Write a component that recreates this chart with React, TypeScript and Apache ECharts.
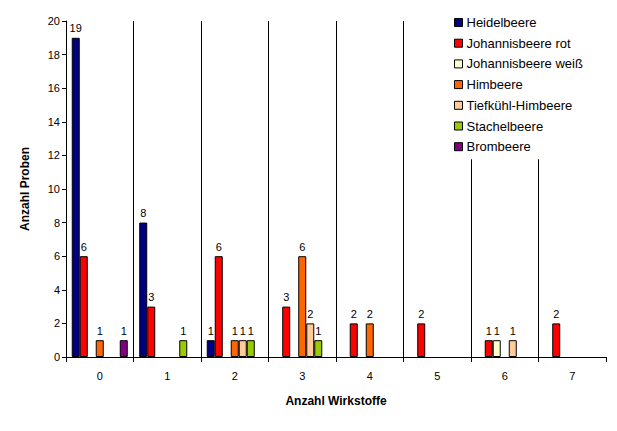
import React, { useEffect, useRef } from "react";
import * as echarts from "echarts";

const categories = ["0", "1", "2", "3", "4", "5", "6", "7"];
const seriesNames = [
  "Heidelbeere",
  "Johannisbeere rot",
  "Johannisbeere weiß",
  "Himbeere",
  "Tiefkühl-Himbeere",
  "Stachelbeere",
  "Brombeere",
];
const heidelbeere = [19, 8, 1, 0, 0, 0, 0, 0];
const johannisRot = [6, 3, 6, 3, 2, 2, 1, 2];
const johannisWeiss = [0, 0, 0, 0, 0, 0, 1, 0];
const himbeere = [1, 0, 1, 6, 2, 0, 0, 0];
const tiefkuehl = [0, 0, 1, 2, 0, 0, 1, 0];
const stachelbeere = [0, 1, 1, 1, 0, 0, 0, 0];
const brombeere = [1, 0, 0, 0, 0, 0, 0, 0];
const colors = ["#000080", "#FF0000", "#FFFFCC", "#FF6600", "#FFCC99", "#99CC00", "#800080"];
const allValues = [heidelbeere, johannisRot, johannisWeiss, himbeere, tiefkuehl, stachelbeere, brombeere];

const FONT = "'Liberation Sans', Arial, sans-serif";

export default function App() {
  const ref = useRef<HTMLDivElement>(null);
  useEffect(() => {
    if (!ref.current) return;
    const chart = echarts.init(ref.current, undefined, { renderer: "svg" });
    chart.setOption({
      animation: false,
      backgroundColor: "#ffffff",
      textStyle: { fontFamily: FONT },
      grid: { left: 66, right: 11, top: 21, bottom: 74, containLabel: false },
      legend: {
        orient: "vertical",
        left: 440,
        top: 0,
        padding: [15, 30, 5, 14],
        backgroundColor: "#ffffff",
        itemWidth: 8,
        itemHeight: 8,
        itemGap: 5.7,
        icon: "rect",
        itemStyle: { borderColor: "#000", borderWidth: 1 },
        textStyle: { fontFamily: FONT, fontSize: 13, color: "#000", lineHeight: 15, padding: [0, 0, 0, -1] },
        data: seriesNames,
      },
      xAxis: {
        type: "category",
        data: categories,
        name: "Anzahl Wirkstoffe",
        nameLocation: "middle",
        nameGap: 38,
        nameTextStyle: { fontFamily: FONT, fontSize: 12, fontWeight: "bold", color: "#000" },
        axisLine: { lineStyle: { color: "#000", width: 1 } },
        axisTick: { show: true, length: 5, lineStyle: { color: "#000" } },
        axisLabel: { fontFamily: FONT, fontSize: 11, color: "#000", margin: 13 },
        splitLine: { show: true, showMaxLine: false, lineStyle: { color: "#000", width: 1 } },
      },
      yAxis: {
        type: "value",
        min: 0,
        max: 20,
        interval: 2,
        name: "Anzahl Proben",
        nameLocation: "middle",
        nameGap: 35,
        nameTextStyle: { fontFamily: FONT, fontSize: 12, fontWeight: "bold", color: "#000" },
        axisLine: { show: true, lineStyle: { color: "#000", width: 1 } },
        axisTick: { show: true, length: 4, lineStyle: { color: "#000" } },
        axisLabel: { fontFamily: FONT, fontSize: 11, color: "#000", margin: 6 },
        splitLine: { show: false },
      },
      series: seriesNames.map((name, i) => ({
        name,
        type: "bar",
        barGap: "0%",
        barCategoryGap: "17%",
        data: allValues[i].map((v) => (v === 0 ? null : v)),
        itemStyle: { color: colors[i], borderColor: "#000", borderWidth: 1 },
        label: {
          show: true,
          position: "top",
          distance: 4,
          fontFamily: FONT,
          fontSize: 11,
          color: "#000",
          formatter: (p: any) => (p.value ? String(p.value) : ""),
        },
      })),
    });
    return () => chart.dispose();
  }, []);
  return <div ref={ref} style={{ width: 617, height: 431, position: "absolute", left: 0, top: 0 }} />;
}
